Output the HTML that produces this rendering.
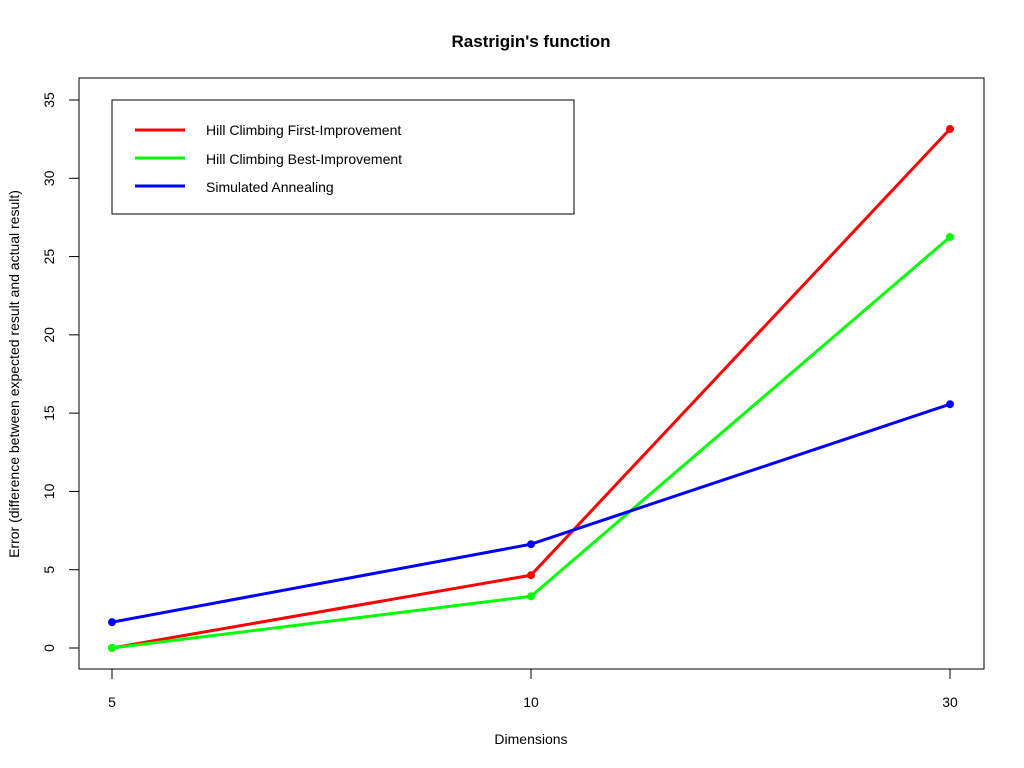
<!DOCTYPE html>
<html><head><meta charset="utf-8"><style>
body{margin:0;background:#fff}
svg{display:block;font-family:"Liberation Sans",Arial,sans-serif}
</style></head><body>
<svg id="chart" width="1024" height="768">
<rect width="1024" height="768" fill="#fff"/>
<text x="531" y="47" font-size="17" font-weight="bold" text-anchor="middle">Rastrigin's function</text>
<rect x="79" y="78" width="905" height="591" fill="none" stroke="#000"/>
<g id="axes"></g>
<g id="series"></g>
<text x="531" y="744" font-size="14" text-anchor="middle">Dimensions</text>
<text transform="translate(19,374) rotate(-90)" font-size="14" text-anchor="middle">Error (difference between expected result and actual result)</text>
<g>
<rect x="112" y="100" width="462" height="114" fill="#fff" stroke="#000"/>
<line x1="135" x2="185" y1="130" y2="130" stroke="#ff0000" stroke-width="3"/>
<text x="206" y="135" font-size="14">Hill Climbing First-Improvement</text>
<line x1="135" x2="185" y1="158" y2="158" stroke="#00ff00" stroke-width="3"/>
<text x="206" y="164" font-size="14">Hill Climbing Best-Improvement</text>
<line x1="135" x2="185" y1="186" y2="186" stroke="#0000ff" stroke-width="3"/>
<text x="206" y="192" font-size="14">Simulated Annealing</text>
</g>
</svg>
<script>
const categories = ["5", "10", "30"];
const firstImprovement = [0, 4.65, 33.15];
const bestImprovement = [0, 3.3, 26.25];
const simulatedAnnealing = [1.65, 6.63, 15.57];
const yTicks = [0, 5, 10, 15, 20, 25, 30, 35];
const NS = "http://www.w3.org/2000/svg";
function xScale(i){ return 112 + i * (950 - 112) / (categories.length - 1); }
function yScale(v){ return 648 - v * (548 / 35); }
function mk(tag, attrs, parent){
  const e = document.createElementNS(NS, tag);
  for (const k in attrs) e.setAttribute(k, attrs[k]);
  parent.appendChild(e);
  return e;
}
const axes = document.getElementById("axes");
yTicks.forEach(t => {
  const tk = mk("line", {x1:69, x2:79, y1:yScale(t), y2:yScale(t), stroke:"#000"}, axes);
  
  
  const tx = mk("text", {transform:`translate(54,${yScale(t)}) rotate(-90)`, "font-size":14, "text-anchor":"middle"}, axes);
  tx.textContent = t;
  
  
});
categories.forEach((c, i) => {
  const tk = mk("line", {x1:xScale(i), x2:xScale(i), y1:669, y2:679, stroke:"#000"}, axes);
  
  
  const tx = mk("text", {x:xScale(i), y:707, "font-size":14, "text-anchor":"middle"}, axes);
  tx.textContent = c;
  
  
});
const series = document.getElementById("series");
[[firstImprovement, "#ff0000", "first-improvement"], [bestImprovement, "#00ff00", "best-improvement"], [simulatedAnnealing, "#0000ff", "simulated-annealing"]].forEach(([vals, col, name]) => {
  const pts = vals.map((v, i) => xScale(i) + "," + yScale(v)).join(" ");
  const pl = mk("polyline", {points:pts, fill:"none", stroke:col, "stroke-width":3}, series);
  
  
  vals.forEach((v, i) => {
    const c = mk("circle", {cx:xScale(i), cy:yScale(v), r:4, fill:col}, series);
    
    
  });
});
</script>
</body></html>
